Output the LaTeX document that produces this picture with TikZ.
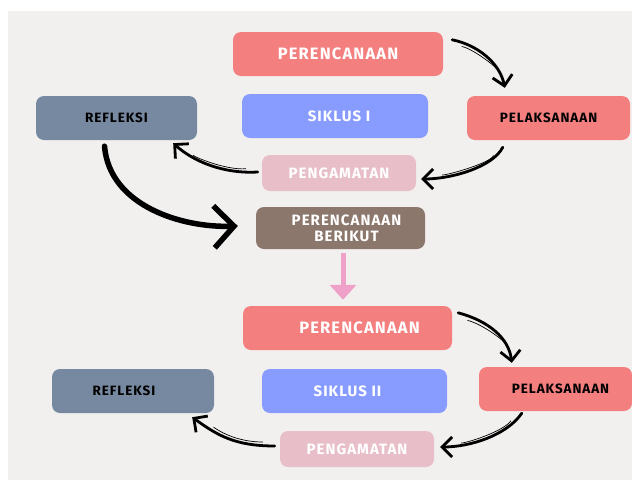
\documentclass[tikz,border=0pt]{standalone}
\usepackage{fontspec}
\setmainfont{Fira Sans}[LetterSpace=7]
\usetikzlibrary{arrows.meta, positioning, calc}
\definecolor{paper}{RGB}{242,240,239}
\definecolor{boxred}{RGB}{244,127,127}
\definecolor{boxblue}{RGB}{136,155,255}
\definecolor{boxslate}{RGB}{119,137,161}
\definecolor{boxpink}{RGB}{232,191,201}
\definecolor{boxbrown}{RGB}{140,119,108}
\definecolor{droppink}{RGB}{239,161,202}

\begin{document}
\begin{tikzpicture}[x=1pt, y=-1pt,
    stage_box/.style={rounded corners=8pt, minimum height=44pt, inner sep=0pt, text=white, font=\fontsize{13.5}{15}\selectfont\bfseries},
    plan_box/.style={stage_box, fill=boxred, font=\fontsize{16.5}{18}\selectfont\bfseries},
    act_box/.style={stage_box, fill=boxred, text=black},
    cycle_box/.style={stage_box, fill=boxblue, font=\fontsize{15}{17}\selectfont\bfseries},
    reflect_box/.style={stage_box, fill=boxslate, text=black},
    observe_box/.style={stage_box, fill=boxpink, minimum height=36pt, font=\fontsize{15}{17}\selectfont\bfseries},
    next_box/.style={stage_box, fill=boxbrown, minimum height=42pt, align=center, font=\fontsize{15}{16}\selectfont\bfseries},
    hand_arrow/.style={-{Straight Barb[length=10pt, width=20pt]}, line width=2.8pt, line cap=round, black},
    big_arrow/.style={-{Straight Barb[length=20pt, width=42pt]}, line width=5.5pt, line cap=round, black},
    traced/.style={postaction={draw, -, line width=0.7pt, shorten <=14pt, shorten >=24pt, transform canvas={shift={#1}}}},
    down_arrow/.style={-{Triangle[length=15pt, width=26pt]}, line width=5pt, droppink}
]

    % page and grey sheet
    \useasboundingbox (0,0) rectangle (632,480);
    \fill[white] (0,0) rectangle (632,480);
    \fill[paper] (8,11) rectangle (632,480);

    % first cycle
    \node[plan_box, minimum width=210pt] (plan_one) at (338,54) {PERENCANAAN};
    \node[cycle_box, minimum width=186pt] (cycle_one) at (335,116) {\hspace*{8pt}SIKLUS I};
    \node[act_box, minimum width=163pt] (act_one) at (548.5,118) {PELAKSANAAN};
    \node[reflect_box, minimum width=161pt] (reflect_one) at (116.5,118) {REFLEKSI};
    \node[observe_box, minimum width=154pt] (observe_one) at (339,173) {PENGAMATAN};
    \node[next_box, minimum width=169pt] (next_plan) at (340.5,228) {\hspace*{12pt}PERENCANAAN\\\hspace*{12pt}BERIKUT};

    % second cycle
    \node[plan_box, minimum width=209pt] (plan_two) at (347.5,328) {\hspace*{24pt}PERENCANAAN};
    \node[cycle_box, minimum width=185pt] (cycle_two) at (354.5,391) {SIKLUS II\hspace*{14pt}};
    \node[act_box, minimum width=153pt] (act_two) at (555.5,389) {\hspace*{10pt}PELAKSANAAN};
    \node[reflect_box, minimum width=162pt] (reflect_two) at (133,391) {REFLEKSI\hspace*{18pt}};
    \node[observe_box, minimum width=154pt] (observe_two) at (357,449) {PENGAMATAN};

    % arrows of the first cycle
    \draw[hand_arrow, traced={(-4pt,-4pt)}] ([shift={(9,8)}]plan_one.north east)
        .. controls +(25,5) and +(-5,-25) .. ([shift={(38,-8)}]act_one.north west);
    \draw[hand_arrow, traced={(-3pt,4pt)}] ([shift={(36,7)}]act_one.south west)
        .. controls +(-10,20) and +(30,0) .. ([shift={(5,6)}]observe_one.east);
    \draw[hand_arrow, traced={(2pt,4pt)}] ([shift={(-4,-1)}]observe_one.west)
        .. controls +(-35,2) and +(20,18) .. ([shift={(-24,3)}]reflect_one.south east);

    % from reflection to the next plan
    \draw[big_arrow] ([shift={(-12,6)}]reflect_one.south)
        .. controls +(5,60) and +(-55,2) .. ([shift={(-18,-2)}]next_plan.west);
    \draw[down_arrow] ([shift={(2.5,4)}]next_plan.south) -- ([shift={(-4.5,-6)}]plan_two.north);

    % arrows of the second cycle
    \draw[hand_arrow, traced={(-4pt,-4pt)}] ([shift={(6,7)}]plan_two.north east)
        .. controls +(30,8) and +(-3,-25) .. ([shift={(33,-4)}]act_two.north west);
    \draw[hand_arrow, traced={(-3pt,4pt)}] ([shift={(43,2)}]act_two.south west)
        .. controls +(-15,22) and +(30,0) .. ([shift={(6,-2)}]observe_two.east);
    \draw[hand_arrow, traced={(2pt,4pt)}] ([shift={(-5,-3)}]observe_two.west)
        .. controls +(-40,0) and +(25,18) .. ([shift={(-22,4)}]reflect_two.south east);

\end{tikzpicture}
\end{document}
